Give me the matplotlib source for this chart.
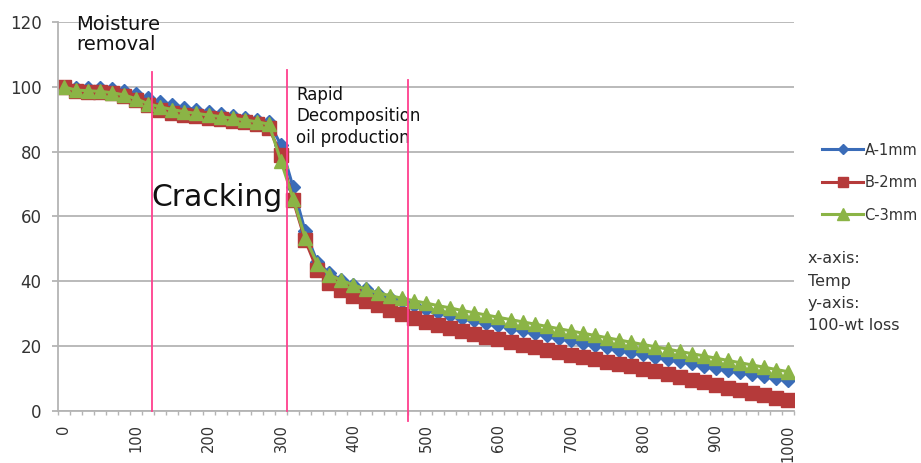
import numpy as np
import matplotlib
matplotlib.use('Agg')
import matplotlib.pyplot as plt
from matplotlib.ticker import FixedLocator

# temperature categories (deg C)
temp = [0, 16.7, 33.3, 50, 66.7, 83.3, 100, 116.7, 133.3, 150, 166.7, 183.3, 200,
        216.7, 233.3, 250, 266.7, 283.3, 300, 316.7, 333.3, 350, 366.7, 383.3, 400,
        416.7, 433.3, 450, 466.7, 483.3, 500, 516.7, 533.3, 550, 566.7, 583.3, 600,
        616.7, 633.3, 650, 666.7, 683.3, 700, 716.7, 733.3, 750, 766.7, 783.3, 800,
        816.7, 833.3, 850, 866.7, 883.3, 900, 916.7, 933.3, 950, 966.7, 983.3, 1000]

# 100 - wt loss
A_1mm = [100, 99.6, 99.6, 99.6, 99.4, 98.8, 97.8, 96.5, 95.4, 94.5, 93.6, 92.9, 92.2,
         91.6, 91.0, 90.4, 89.8, 89.2, 82, 69, 55.5, 46,
         42.5, 40.5, 39.0, 37.6, 36.2, 35.0, 33.8, 32.6, 31.6, 30.6, 29.7, 28.8, 28.0,
         27.2, 26.4, 25.6, 24.9, 24.1, 23.4, 22.6, 21.9, 21.1, 20.3, 19.6, 18.9, 18.2,
         17.5, 16.8, 16.1, 15.4, 14.7, 14.0, 13.4, 12.7, 12.1, 11.5, 10.9, 10.3, 9.7]
B_2mm = [100, 98.8, 98.5, 98.3, 98.0, 97.2, 96.0, 94.5, 93.0, 92.0, 91.4, 90.9, 90.4,
         90.0, 89.5, 89.0, 88.4, 87.3, 79, 65, 52.7, 43.5,
         39.5, 37.3, 35.6, 34.0, 32.6, 31.2, 29.9, 28.7, 27.6, 26.6, 25.6, 24.7, 23.8,
         22.9, 22.1, 21.3, 20.5, 19.7, 18.9, 18.2, 17.4, 16.7, 15.9, 15.2, 14.5, 13.8,
         13.1, 12.2, 11.3, 10.5, 9.6, 8.8, 8.0, 7.2, 6.4, 5.6, 4.8, 4.1, 3.5]
C_3mm = [100, 99.0, 98.8, 98.6, 98.2, 97.5, 96.3, 94.8, 93.8, 93.0, 92.3, 91.8, 91.3,
         90.8, 90.3, 89.8, 89.2, 88.5, 77, 65.5, 53.5, 45.5,
         42.0, 40.3, 38.9, 37.6, 36.5, 35.6, 34.8, 34.0, 33.3, 32.5, 31.8, 31.0, 30.3,
         29.6, 28.9, 28.2, 27.5, 26.8, 26.1, 25.4, 24.7, 24.0, 23.3, 22.6, 21.9, 21.2,
         20.5, 19.8, 19.1, 18.4, 17.7, 17.0, 16.3, 15.6, 14.9, 14.2, 13.5, 12.8, 12.1]

# stage boundaries (temp, top of line, bottom of line)
bound_temp = [122, 308, 475]
bound_top = [104.6, 105.2, 102.1]
bound_bot = [0, 0, -3.1]

xticks = [0, 100, 200, 300, 400, 500, 600, 700, 800, 900, 1000]
yticks = [0, 20, 40, 60, 80, 100, 120]

grid_c = '#B4B4B4'
txt_c = '#333333'
pink = '#FF3F8E'

fig = plt.figure(figsize=(9.21, 4.63), dpi=100)
ax = fig.add_axes([0.0625, 0.1123, 0.8, 0.8402])

half = (temp[1] - temp[0]) / 2.0
ax.set_xlim(temp[0] - half, temp[-1] + half)
ax.set_ylim(0, 120)

ax.plot(temp, A_1mm, color='#3A6CB8', lw=2.2, marker='D', ms=7, label='A-1mm')
ax.plot(temp, B_2mm, color='#B53A3A', lw=2.2, marker='s', ms=9.5, label='B-2mm')
ax.plot(temp, C_3mm, color='#8BB446', lw=2.2, marker='^', ms=10, label='C-3mm')

for t, top, bot in zip(bound_temp, bound_top, bound_bot):
    ax.plot([t, t], [bot, top], color=pink, lw=1.3, clip_on=False, zorder=5)

ax.yaxis.set_major_locator(FixedLocator(yticks))
ax.xaxis.set_major_locator(FixedLocator(xticks))
edges = [t - half for t in temp] + [temp[-1] + half]
ax.xaxis.set_minor_locator(FixedLocator(edges))
ax.grid(axis='y', color=grid_c, lw=1.3)
ax.set_axisbelow(True)
for s in ['top', 'right']:
    ax.spines[s].set_visible(False)
for s in ['left', 'bottom']:
    ax.spines[s].set_color(grid_c)
    ax.spines[s].set_linewidth(1.3)
ax.tick_params(axis='y', length=4.5, width=1.3, color=grid_c, labelsize=12,
               labelcolor=txt_c, pad=7)
ax.tick_params(axis='x', which='major', length=0, labelsize=10.5, labelcolor=txt_c,
               pad=9.5, labelrotation=90)
ax.tick_params(axis='x', which='minor', length=3, width=1, color=grid_c)

ax.text(17, 122.3, 'Moisture\nremoval', fontsize=14, va='top', ha='left',
        linespacing=1.1, color='#111111', clip_on=False)
ax.text(121, 66, 'Cracking', fontsize=21.5, va='center', ha='left', color='#111111')
ax.text(321, 100.3, 'Rapid\nDecomposition\noil production', fontsize=12,
        va='top', ha='left', linespacing=1.25, color='#111111')

leg = ax.legend(loc='upper left', bbox_to_anchor=(1.03, 0.705), frameon=False,
                fontsize=10.5, handlelength=2.8, handletextpad=0.1, labelspacing=1.2,
                borderaxespad=0, markerscale=0.8)
for t in leg.get_texts():
    t.set_color(txt_c)

fig.text(0.877, 0.457, 'x-axis:\nTemp\ny-axis:\n100-wt loss', fontsize=11.5, va='top',
         ha='left', linespacing=1.6, color=txt_c)

fig.savefig('out.png', dpi=100)
